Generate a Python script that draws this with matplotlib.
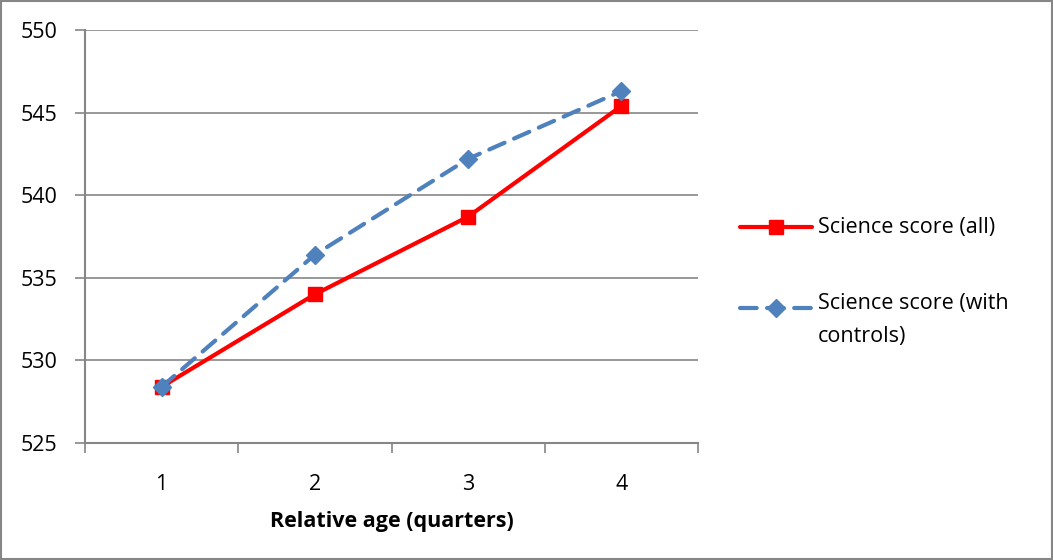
import matplotlib.pyplot as plt
from matplotlib.patches import Rectangle
from matplotlib.lines import Line2D

quarters = [1, 2, 3, 4]
score_all = [528.4, 534.0, 538.7, 545.4]
score_controls = [528.4, 536.4, 542.2, 546.3]
labels_x = ["1", "2", "3", "4"]
y_ticks = [525, 530, 535, 540, 545, 550]
series_names = ['Science score (all)', 'Science score (with\ncontrols)']

plt.rcParams['font.family'] = ['Open Sans', 'DejaVu Sans']
grey = '#868686'
red = '#ff0000'
blue = '#4f81bd'
blue_dash = (4, 2.5)

fig = plt.figure(figsize=(10.53, 5.6), dpi=100)
ax = fig.add_axes([85 / 1053, 1 - 443 / 560, 613 / 1053, 413 / 560])

ax.plot(quarters, score_all, color=red, lw=3, marker='s', ms=10,
        solid_capstyle='round', zorder=3)
ax.plot(quarters, score_controls, color=blue, lw=3, marker='D', ms=9,
        dashes=blue_dash, dash_capstyle='round', zorder=3)

ax.set_xlim(0.5, 4.5)
ax.set_ylim(525, 550)
ax.set_yticks(y_ticks)
ax.set_xticks(quarters)
ax.set_xticklabels(labels_x)
ax.set_xticks([0.5, 1.5, 2.5, 3.5, 4.5], minor=True)
ax.tick_params(axis='x', which='major', length=0, labelsize=15.5, pad=22)
ax.tick_params(axis='x', which='minor', length=7, color=grey, width=1.2, direction='out')
ax.tick_params(axis='y', length=7, color=grey, width=1.2, labelsize=15.5, pad=13)
ax.grid(axis='y', color=grey, lw=1.2)
ax.set_axisbelow(True)
for s in ['top', 'right']:
    ax.spines[s].set_visible(False)
for s in ['left', 'bottom']:
    ax.spines[s].set_color(grey)
    ax.spines[s].set_linewidth(1.5)

ax.set_xlabel('Relative age (quarters)', fontsize=15.5, fontweight='bold', labelpad=12)

# legend drawn by hand so the blue key sits on the first text line
def fy(py):
    return 1 - py / 560

fig.add_artist(Line2D([740 / 1053, 812 / 1053], [fy(227), fy(227)], color=red, lw=3,
                      solid_capstyle='round', transform=fig.transFigure))
fig.add_artist(Line2D([776 / 1053], [fy(227)], color=red, marker='s', ms=10,
                      transform=fig.transFigure))
fig.add_artist(Line2D([740 / 1053, 812 / 1053], [fy(308), fy(308)], color=blue, lw=3,
                      dashes=blue_dash, dash_capstyle='round', transform=fig.transFigure))
fig.add_artist(Line2D([776 / 1053], [fy(308)], color=blue, marker='D', ms=9,
                      transform=fig.transFigure))
fig.text(818 / 1053, fy(227), series_names[0], fontsize=15.5, va='center')
fig.text(818 / 1053, fy(293), series_names[1], fontsize=15.5, va='top', linespacing=1.75)

fig.patches.append(Rectangle((0.001, 0.001), 0.998, 0.997, transform=fig.transFigure,
                             fill=False, edgecolor=grey, lw=1.5))

fig.savefig('out.png', dpi=100)
